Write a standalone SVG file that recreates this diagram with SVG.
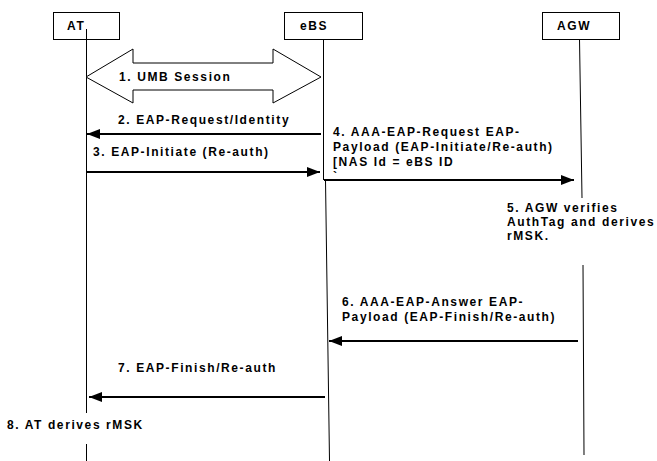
<svg xmlns="http://www.w3.org/2000/svg" width="657" height="461" viewBox="0 0 657 461">
<style>
text{font-family:"Liberation Sans",Arial,sans-serif;font-size:12px;font-weight:bold;letter-spacing:1.6px;fill:#000}
.box{fill:#fff;stroke:#000;stroke-width:1}
.life{stroke:#000;stroke-width:1;fill:none}
.msg{stroke:#000;stroke-width:2;fill:none;marker-end:url(#ah)}
</style>
<defs>
<marker id="ah" markerUnits="userSpaceOnUse" markerWidth="13" markerHeight="10" refX="13" refY="5" orient="auto">
<path d="M0,0 L13,5 L0,10 Z" fill="#000"/>
</marker>
</defs>
<rect width="657" height="461" fill="#fff"/>
<g id="lifelines">
<line class="life" x1="86.5" y1="29" x2="86.5" y2="413"/>
<line class="life" x1="86.5" y1="444" x2="86.5" y2="461"/>
<line class="life" x1="323.5" y1="39" x2="323.5" y2="180"/>
<line class="life" x1="325.5" y1="180" x2="329.5" y2="461"/>
<line class="life" x1="579.5" y1="39" x2="582" y2="198"/>
<line class="life" x1="583" y1="265" x2="584" y2="455"/>
</g>
<g id="node-AT">
<rect class="box" x="53.5" y="12.5" width="66" height="27"/>
<text x="67" y="30">AT</text>
</g>
<line class="life" x1="86.5" y1="29" x2="86.5" y2="39"/>
<g id="node-eBS">
<rect class="box" x="284.5" y="12.5" width="78" height="27"/>
<text x="300" y="30">eBS</text>
</g>
<g id="node-AGW">
<rect class="box" x="542.5" y="12.5" width="77" height="27"/>
<text x="557" y="30">AGW</text>
</g>
<g id="connectors">
<polygon points="86,77 133,49 133,63 273,63 273,49 321,77 273,103 273,90 133,90 133,103" fill="#fff" stroke="#000" stroke-width="1"/>
<line class="msg" x1="321" y1="134" x2="87" y2="134"/>
<line class="msg" x1="86" y1="172" x2="320" y2="172"/>
<line class="msg" x1="324" y1="180" x2="574" y2="180"/>
<line class="msg" x1="578" y1="341" x2="329" y2="341"/>
<line class="msg" x1="325" y1="397" x2="89" y2="397"/>
</g>
<g id="labels">
<text x="119" y="81">1. UMB Session</text>
<text x="118" y="124">2. EAP-Request/Identity</text>
<text x="93" y="156">3. EAP-Initiate (Re-auth)</text>
<text x="333" y="136">4. AAA-EAP-Request EAP-</text>
<text x="333" y="151">Payload (EAP-Initiate/Re-auth)</text>
<text x="333" y="166">[NAS Id = eBS ID</text>
<text x="333" y="181">`</text>
<text x="507" y="212">5. AGW verifies</text>
<text x="507" y="226">AuthTag and derives</text>
<text x="507" y="240">rMSK.</text>
<text x="342" y="306">6. AAA-EAP-Answer EAP-</text>
<text x="342" y="321">Payload (EAP-Finish/Re-auth)</text>
<text x="118" y="372">7. EAP-Finish/Re-auth</text>
<text x="7" y="429">8. AT derives rMSK</text>
</g>
</svg>
